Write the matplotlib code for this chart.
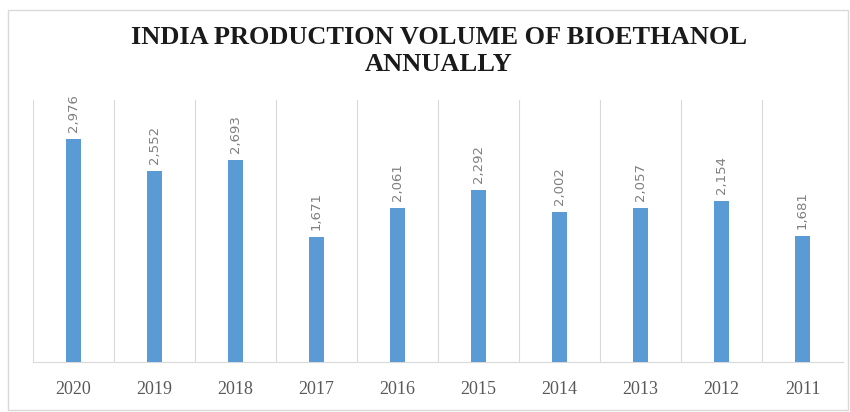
import matplotlib.pyplot as plt
from matplotlib.patches import Rectangle

years = ['2020', '2019', '2018', '2017', '2016', '2015', '2014', '2013', '2012', '2011']
volume = [2976, 2552, 2693, 1671, 2061, 2292, 2002, 2057, 2154, 1681]

fig = plt.figure(figsize=(8.5, 4.12), dpi=100)
fig.patches.append(Rectangle((8 / 850, 0.005), 840 / 850, 1 - 10 / 412 - 0.005,
                             transform=fig.transFigure, fill=False,
                             edgecolor='#d9d9d9', linewidth=1))

ax = fig.add_axes([33 / 850, 50 / 412, 810 / 850, 262 / 412])
x = range(len(years))
ax.bar(x, volume, width=0.19, color='#5b9bd5', zorder=3)

for i, v in enumerate(volume):
    ax.annotate(f'{v:,}', (i, v), xytext=(0, 5), textcoords='offset points',
                rotation=90, ha='center', va='bottom', fontsize=9.5,
                color='#7f7f7f', family='Liberation Sans Narrow')

ax.set_xlim(-0.5, len(years) - 0.5)
ax.set_ylim(0, 3500)
ax.set_yticks([])
ax.set_xticks(list(x))
ax.set_xticklabels(years, fontsize=13, color='#595959', family='Liberation Serif')
ax.set_xticks([i + 0.5 for i in range(-1, len(years))], minor=True)
ax.tick_params(axis='x', which='both', length=0, pad=14)
ax.grid(axis='x', which='minor', color='#d9d9d9', linewidth=0.8, zorder=0)
for s in ['top', 'right', 'left']:
    ax.spines[s].set_visible(False)
ax.spines['bottom'].set_color('#d9d9d9')

fig.text(0.516, 0.876, 'INDIA PRODUCTION VOLUME OF BIOETHANOL\nANNUALLY',
         ha='center', va='center', fontsize=19, fontweight='bold',
         family='Liberation Serif', color='#1a1a1a', linespacing=1.2)

fig.savefig('out.png', dpi=100)
